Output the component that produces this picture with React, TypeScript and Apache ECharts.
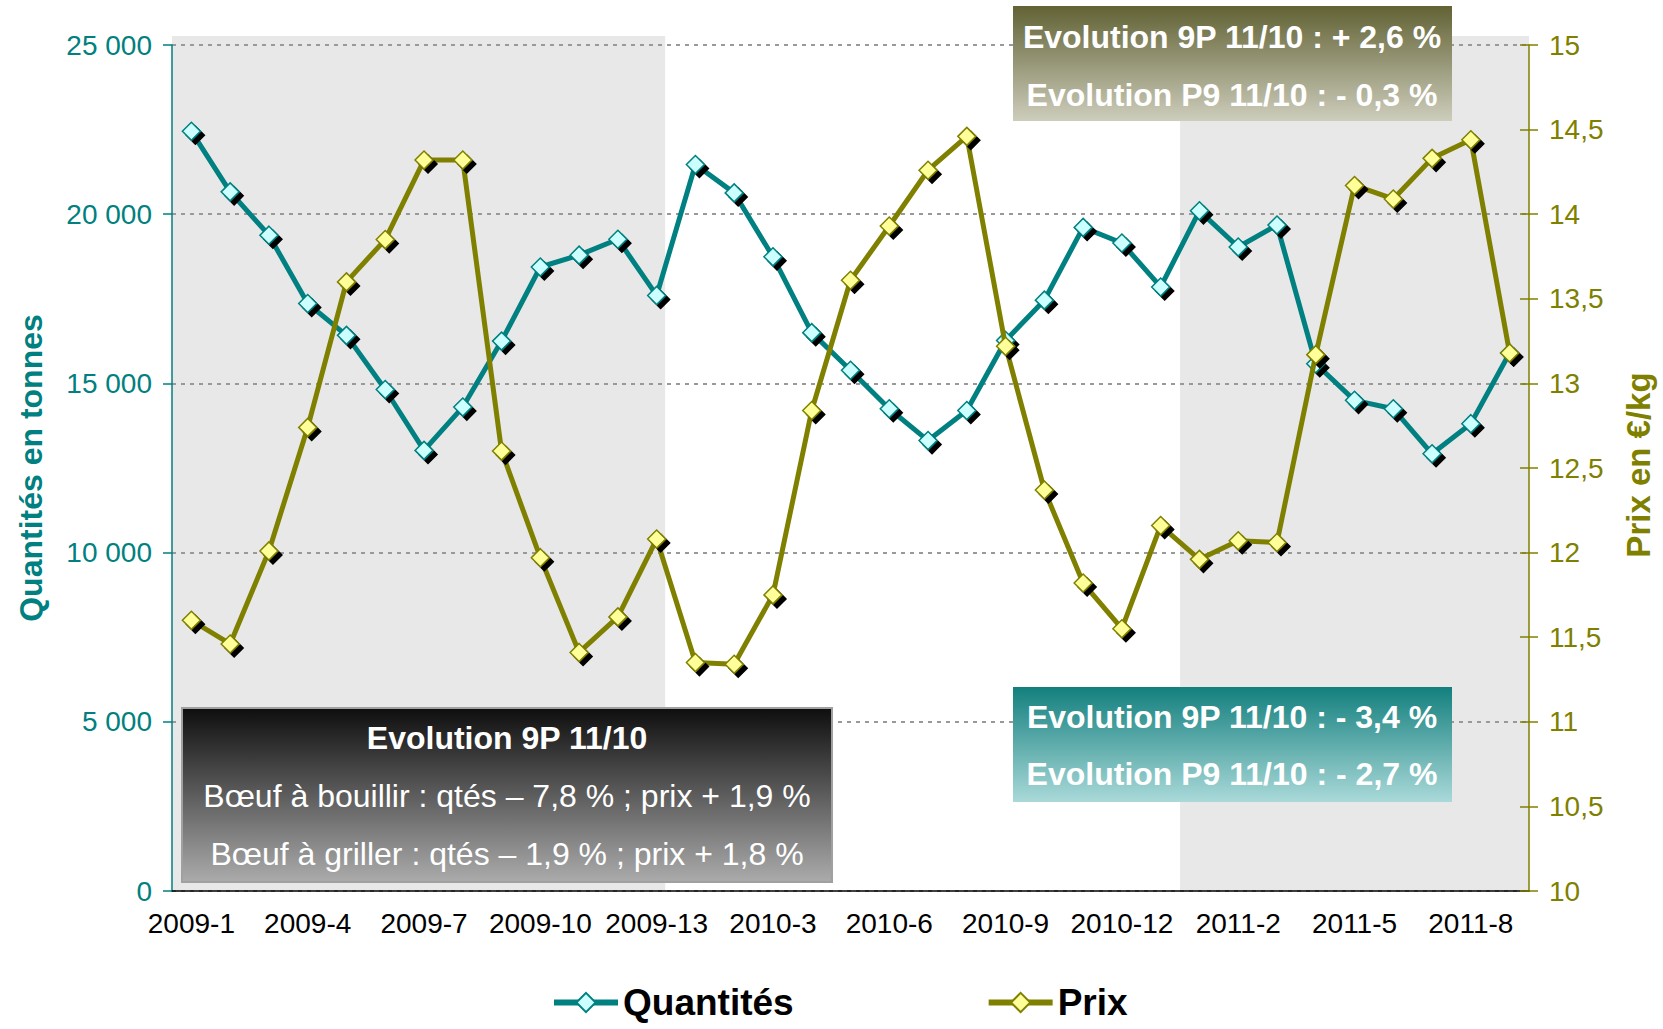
import React, { useEffect, useRef } from "react";
import * as echarts from "echarts";

const categories = [
  "2009-1", "2009-2", "2009-3", "2009-4", "2009-5", "2009-6", "2009-7", "2009-8", "2009-9", "2009-10", "2009-11", "2009-12", "2009-13",
  "2010-1", "2010-2", "2010-3", "2010-4", "2010-5", "2010-6", "2010-7", "2010-8", "2010-9", "2010-10", "2010-11", "2010-12", "2010-13",
  "2011-1", "2011-2", "2011-3", "2011-4", "2011-5", "2011-6", "2011-7", "2011-8", "2011-9",
];

const quantites = [
  22450, 20660, 19380, 17360, 16420, 14820, 13020, 14300, 16250, 18440, 18790, 19260, 17600,
  21470, 20630, 18740, 16500, 15390, 14250, 13310, 14200, 16270, 17460, 19610, 19150, 17850,
  20100, 19030, 19680, 15580, 14500, 14250, 12920, 13810, 15900,
];

const prix = [
  11.6, 11.46, 12.01, 12.74, 13.6, 13.85, 14.32, 14.32, 12.6, 11.97, 11.41, 11.62, 12.08,
  11.35, 11.34, 11.75, 12.84, 13.61, 13.93, 14.26, 14.46, 13.22, 12.37, 11.82, 11.55, 12.16,
  11.96, 12.07, 12.06, 13.17, 14.17, 14.09, 14.33, 14.44, 13.18,
];

// shaded periods, in category units from the left edge of the axis
const shadedBands: [number, number][] = [
  [0, 12.72],
  [26, 35],
];

const boxOlive = ["Evolution 9P 11/10 : + 2,6 %", "Evolution P9 11/10 : - 0,3 %"];
const boxTeal = ["Evolution 9P 11/10 : - 3,4 %", "Evolution P9 11/10 : - 2,7 %"];
const boxGray = [
  "Evolution 9P 11/10",
  "Bœuf à bouillir : qtés – 7,8 % ; prix + 1,9 %",
  "Bœuf à griller : qtés – 1,9 % ; prix + 1,8 %",
];

const FONT = '"Liberation Sans", Arial, sans-serif';
const TEAL = "#008080";
const OLIVE = "#808000";

function grad(top: string, bottom: string) {
  return {
    type: "linear",
    x: 0,
    y: 0,
    x2: 0,
    y2: 1,
    colorStops: [
      { offset: 0, color: top },
      { offset: 1, color: bottom },
    ],
  };
}

export default function App() {
  const ref = useRef<HTMLDivElement>(null);

  useEffect(() => {
    const chart = echarts.init(ref.current!, null, { renderer: "svg" });
    const option: any = {
      animation: false,
      backgroundColor: "#ffffff",
      grid: { left: 172, right: 134, top: 45, bottom: 138 },
      legend: {
        left: 546,
        top: 979,
        itemGap: 192,
        itemWidth: 64,
        itemHeight: 24,
        textStyle: {
          fontFamily: FONT,
          fontSize: 37,
          fontWeight: "bold",
          color: "#000",
          padding: [0, 0, 0, 0],
        },
        lineStyle: { width: 6 },
        itemStyle: { shadowColor: "rgba(0,0,0,0)", shadowOffsetX: 0, shadowOffsetY: 0 },
        data: ["Quantités", "Prix"],
      },
      xAxis: {
        type: "category",
        data: categories,
        boundaryGap: true,
        axisLine: { lineStyle: { color: "#000", width: 1.5 } },
        axisTick: { interval: 2, length: 8, lineStyle: { color: "#000", width: 1.5 } },
        axisLabel: {
          interval: 2,
          margin: 18,
          color: "#000",
          fontFamily: FONT,
          fontSize: 28,
        },
      },
      yAxis: [
        {
          type: "value",
          min: 0,
          max: 25000,
          interval: 5000,
          position: "left",
          axisLine: { show: true, lineStyle: { color: TEAL, width: 1.5 } },
          axisTick: { show: true, length: 9, lineStyle: { color: TEAL, width: 1.5 } },
          axisLabel: {
            margin: 20,
            color: TEAL,
            fontFamily: FONT,
            fontSize: 28,
            formatter: (v: number) => String(v).replace(/\B(?=(\d{3})+(?!\d))/g, " "),
          },
          splitLine: { show: true, lineStyle: { color: "#999", width: 2, type: [4, 5] } },
        },
        {
          type: "value",
          min: 10,
          max: 15,
          interval: 0.5,
          position: "right",
          axisLine: { show: true, lineStyle: { color: OLIVE, width: 1.5 } },
          axisTick: { show: true, length: 9, lineStyle: { color: OLIVE, width: 1.5 } },
          axisLabel: {
            margin: 20,
            color: OLIVE,
            fontFamily: FONT,
            fontSize: 28,
            formatter: (v: number) => String(v).replace(".", ","),
          },
          splitLine: { show: false },
        },
        {
          type: "value",
          min: 10,
          max: 15,
          interval: 0.5,
          position: "right",
          axisLine: { show: false },
          axisTick: { show: true, inside: true, length: 9, lineStyle: { color: OLIVE, width: 1.5 } },
          axisLabel: { show: false },
          splitLine: { show: false },
        },
      ],
      series: [
        {
          name: "Quantités",
          type: "line",
          yAxisIndex: 0,
          data: quantites,
          symbol: "diamond",
          symbolSize: 18,
          lineStyle: { color: TEAL, width: 5 },
          itemStyle: {
            color: "#ccffff",
            borderColor: TEAL,
            borderWidth: 1.5,
            shadowColor: "#000",
            shadowBlur: 0,
            shadowOffsetX: 4,
            shadowOffsetY: 4,
          },
          emphasis: { disabled: true },
          z: 3,
        },
        {
          name: "Prix",
          type: "line",
          yAxisIndex: 1,
          data: prix,
          symbol: "diamond",
          symbolSize: 18,
          lineStyle: { color: OLIVE, width: 5 },
          itemStyle: {
            color: "#ffff99",
            borderColor: OLIVE,
            borderWidth: 1.5,
            shadowColor: "#000",
            shadowBlur: 0,
            shadowOffsetX: 4,
            shadowOffsetY: 4,
          },
          emphasis: { disabled: true },
          z: 4,
        },
      ],
    };
    chart.setOption(option);

    const c0 = chart.convertToPixel({ xAxisIndex: 0 }, 0) as number;
    const c1 = chart.convertToPixel({ xAxisIndex: 0 }, 1) as number;
    const band = c1 - c0;
    const edge0 = c0 - band / 2;
    const yTop = (chart.convertToPixel({ yAxisIndex: 0 }, 25000) as number) - 9;
    const yBot = chart.convertToPixel({ yAxisIndex: 0 }, 0) as number;

    const shading = shadedBands.map(([a, b]) => ({
      type: "rect",
      z: -1,
      silent: true,
      shape: { x: edge0 + a * band, y: yTop, width: (b - a) * band, height: yBot - yTop },
      style: { fill: "#e8e8e8" },
    }));

    const boldStyle = (text: string, x: number, y: number, size = 32) => ({
      type: "text",
      x,
      y,
      style: {
        text,
        fill: "#fff",
        font: `bold ${size}px ${FONT}`,
        textAlign: "center",
        textVerticalAlign: "middle",
      },
    });
    const regStyle = (text: string, x: number, y: number) => ({
      type: "text",
      x,
      y,
      style: {
        text,
        fill: "#fff",
        font: `32px ${FONT}`,
        textAlign: "center",
        textVerticalAlign: "middle",
      },
    });

    const graphics: any[] = [
      ...shading,
      {
        type: "group",
        x: 1013,
        y: 6,
        z: 10,
        children: [
          { type: "rect", shape: { x: 0, y: 0, width: 439, height: 115 }, style: { fill: grad("#626235", "#cdcdbc") } },
          boldStyle(boxOlive[0], 219, 31),
          boldStyle(boxOlive[1], 219, 89),
        ],
      },
      {
        type: "group",
        x: 1013,
        y: 687,
        z: 10,
        children: [
          { type: "rect", shape: { x: 0, y: 0, width: 439, height: 115 }, style: { fill: grad("#13807e", "#aad9d9") } },
          boldStyle(boxTeal[0], 219, 30),
          boldStyle(boxTeal[1], 219, 87),
        ],
      },
      {
        type: "group",
        x: 182,
        y: 708,
        z: 10,
        children: [
          {
            type: "rect",
            shape: { x: 0, y: 0, width: 650, height: 174 },
            style: { fill: grad("#0e0e0e", "#ababab"), stroke: "#a0a0a0", lineWidth: 2 },
          },
          boldStyle(boxGray[0], 325, 30),
          regStyle(boxGray[1], 325, 88),
          regStyle(boxGray[2], 325, 146),
        ],
      },
      {
        type: "text",
        x: 31,
        y: 468,
        rotation: Math.PI / 2,
        style: {
          text: "Quantités en tonnes",
          fill: TEAL,
          font: `bold 32px ${FONT}`,
          textAlign: "center",
          textVerticalAlign: "middle",
        },
      },
      {
        type: "text",
        x: 1638,
        y: 465,
        rotation: Math.PI / 2,
        style: {
          text: "Prix en €/kg",
          fill: OLIVE,
          font: `bold 33px ${FONT}`,
          textAlign: "center",
          textVerticalAlign: "middle",
        },
      },
    ];
    chart.setOption({ graphic: graphics });

    return () => chart.dispose();
  }, []);

  return (
    <div
      ref={ref}
      style={{ position: "fixed", left: 0, top: 0, width: 1663, height: 1029 }}
    />
  );
}
